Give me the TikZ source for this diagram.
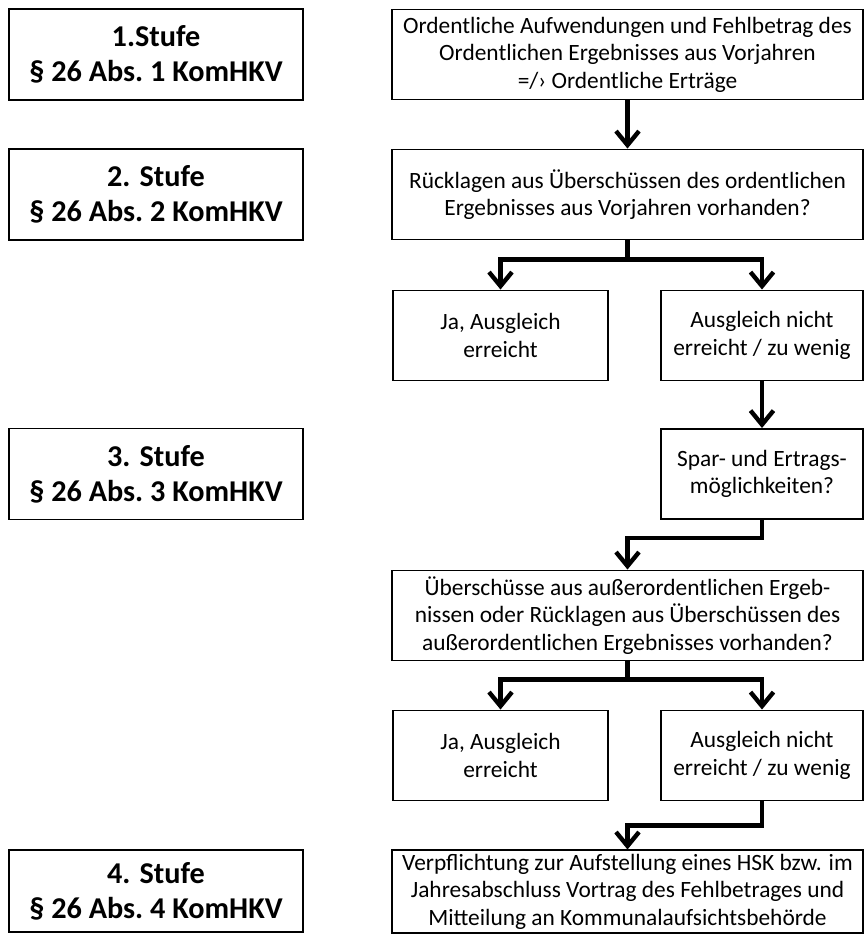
\documentclass[tikz,border=0pt]{standalone}
\usepackage{fontspec}
\setmainfont{Carlito}
\usetikzlibrary{arrows.meta}

\begin{document}
\begin{tikzpicture}[
    stufe/.style={draw, line width=1.1pt, minimum width=5.88cm, minimum height=1.82cm,
      align=center, font=\fontsize{17.2}{20}\selectfont\bfseries},
    kasten/.style={draw, line width=1.1pt, minimum height=1.8cm, inner sep=2pt,
      align=center, font=\fontsize{13.3}{15.6}\selectfont},
    pfeil/.style={line width=2.5pt, -{Straight Barb[length=0.28cm, width=0.46cm]}}
  ]

    \useasboundingbox (0,0) rectangle (17.3,-18.7);

    % Stufen (links)
    \node[stufe] (st1) at (3.12,-1.09) {1.Stufe\\\S~26 Abs.~1 KomHKV};
    \node[stufe] (st2) at (3.12,-3.89) {2. Stufe\\\S~26 Abs.~2 KomHKV};
    \node[stufe] (st3) at (3.12,-9.48) {3. Stufe\\\S~26 Abs.~3 KomHKV};
    \node[stufe, minimum height=1.64cm] (st4) at (3.12,-17.82) {4. Stufe\\\S~26 Abs.~4 KomHKV};

    % level 1
    \node[kasten, minimum width=9.42cm] (ord) at (12.55,-1.09)
      {Ordentliche Aufwendungen und Fehlbetrag des\\Ordentlichen Ergebnisses aus Vorjahren\\=/› Ordentliche Erträge};

    % level 2
    \node[kasten, minimum width=9.42cm] (rl) at (12.55,-3.89)
      {Rücklagen aus Überschüssen des ordentlichen\\Ergebnisses aus Vorjahren vorhanden?};
    \node[kasten, minimum width=4.3cm] (ja1) at (10.01,-6.71) {Ja, Ausgleich\\erreicht};
    \node[kasten, minimum width=4.04cm] (nein1) at (15.24,-6.71) {Ausgleich nicht\\erreicht / zu wenig};

    % level 3
    \node[kasten, minimum width=4.04cm] (spar) at (15.24,-9.48) {Spar- und Ertrags-\\möglichkeiten?};
    \node[kasten, minimum width=9.42cm] (ueb) at (12.55,-12.31)
      {Überschüsse aus außerordentlichen Ergeb-\\nissen oder Rücklagen aus Überschüssen des\\außerordentlichen Ergebnisses vorhanden?};
    \node[kasten, minimum width=4.3cm] (ja2) at (10.01,-15.11) {Ja, Ausgleich\\erreicht};
    \node[kasten, minimum width=4.04cm] (nein2) at (15.24,-15.11) {Ausgleich nicht\\erreicht / zu wenig};

    % level 4
    \node[kasten, minimum width=9.42cm, minimum height=1.62cm] (hsk) at (12.55,-17.83)
      {Verpflichtung zur Aufstellung eines HSK bzw. im\\Jahresabschluss Vortrag des Fehlbetrages und\\Mitteilung an Kommunalaufsichtsbehörde};

    \draw [pfeil] (ord) -- (rl);
    \draw [pfeil] (rl.south) -- ++(0,-0.38) -| (ja1.north);
    \draw [pfeil] (rl.south) -- ++(0,-0.38) -| (nein1.north);
    \draw [pfeil] (nein1) -- (spar);
    \draw [pfeil] (spar.south) -- ++(0,-0.36) -| (ueb.north);
    \draw [pfeil] (ueb.south) -- ++(0,-0.36) -| (ja2.north);
    \draw [pfeil] (ueb.south) -- ++(0,-0.36) -| (nein2.north);
    \draw [pfeil] (nein2.south) -- ++(0,-0.48) -| (hsk.north);

  \end{tikzpicture}
\end{document}
